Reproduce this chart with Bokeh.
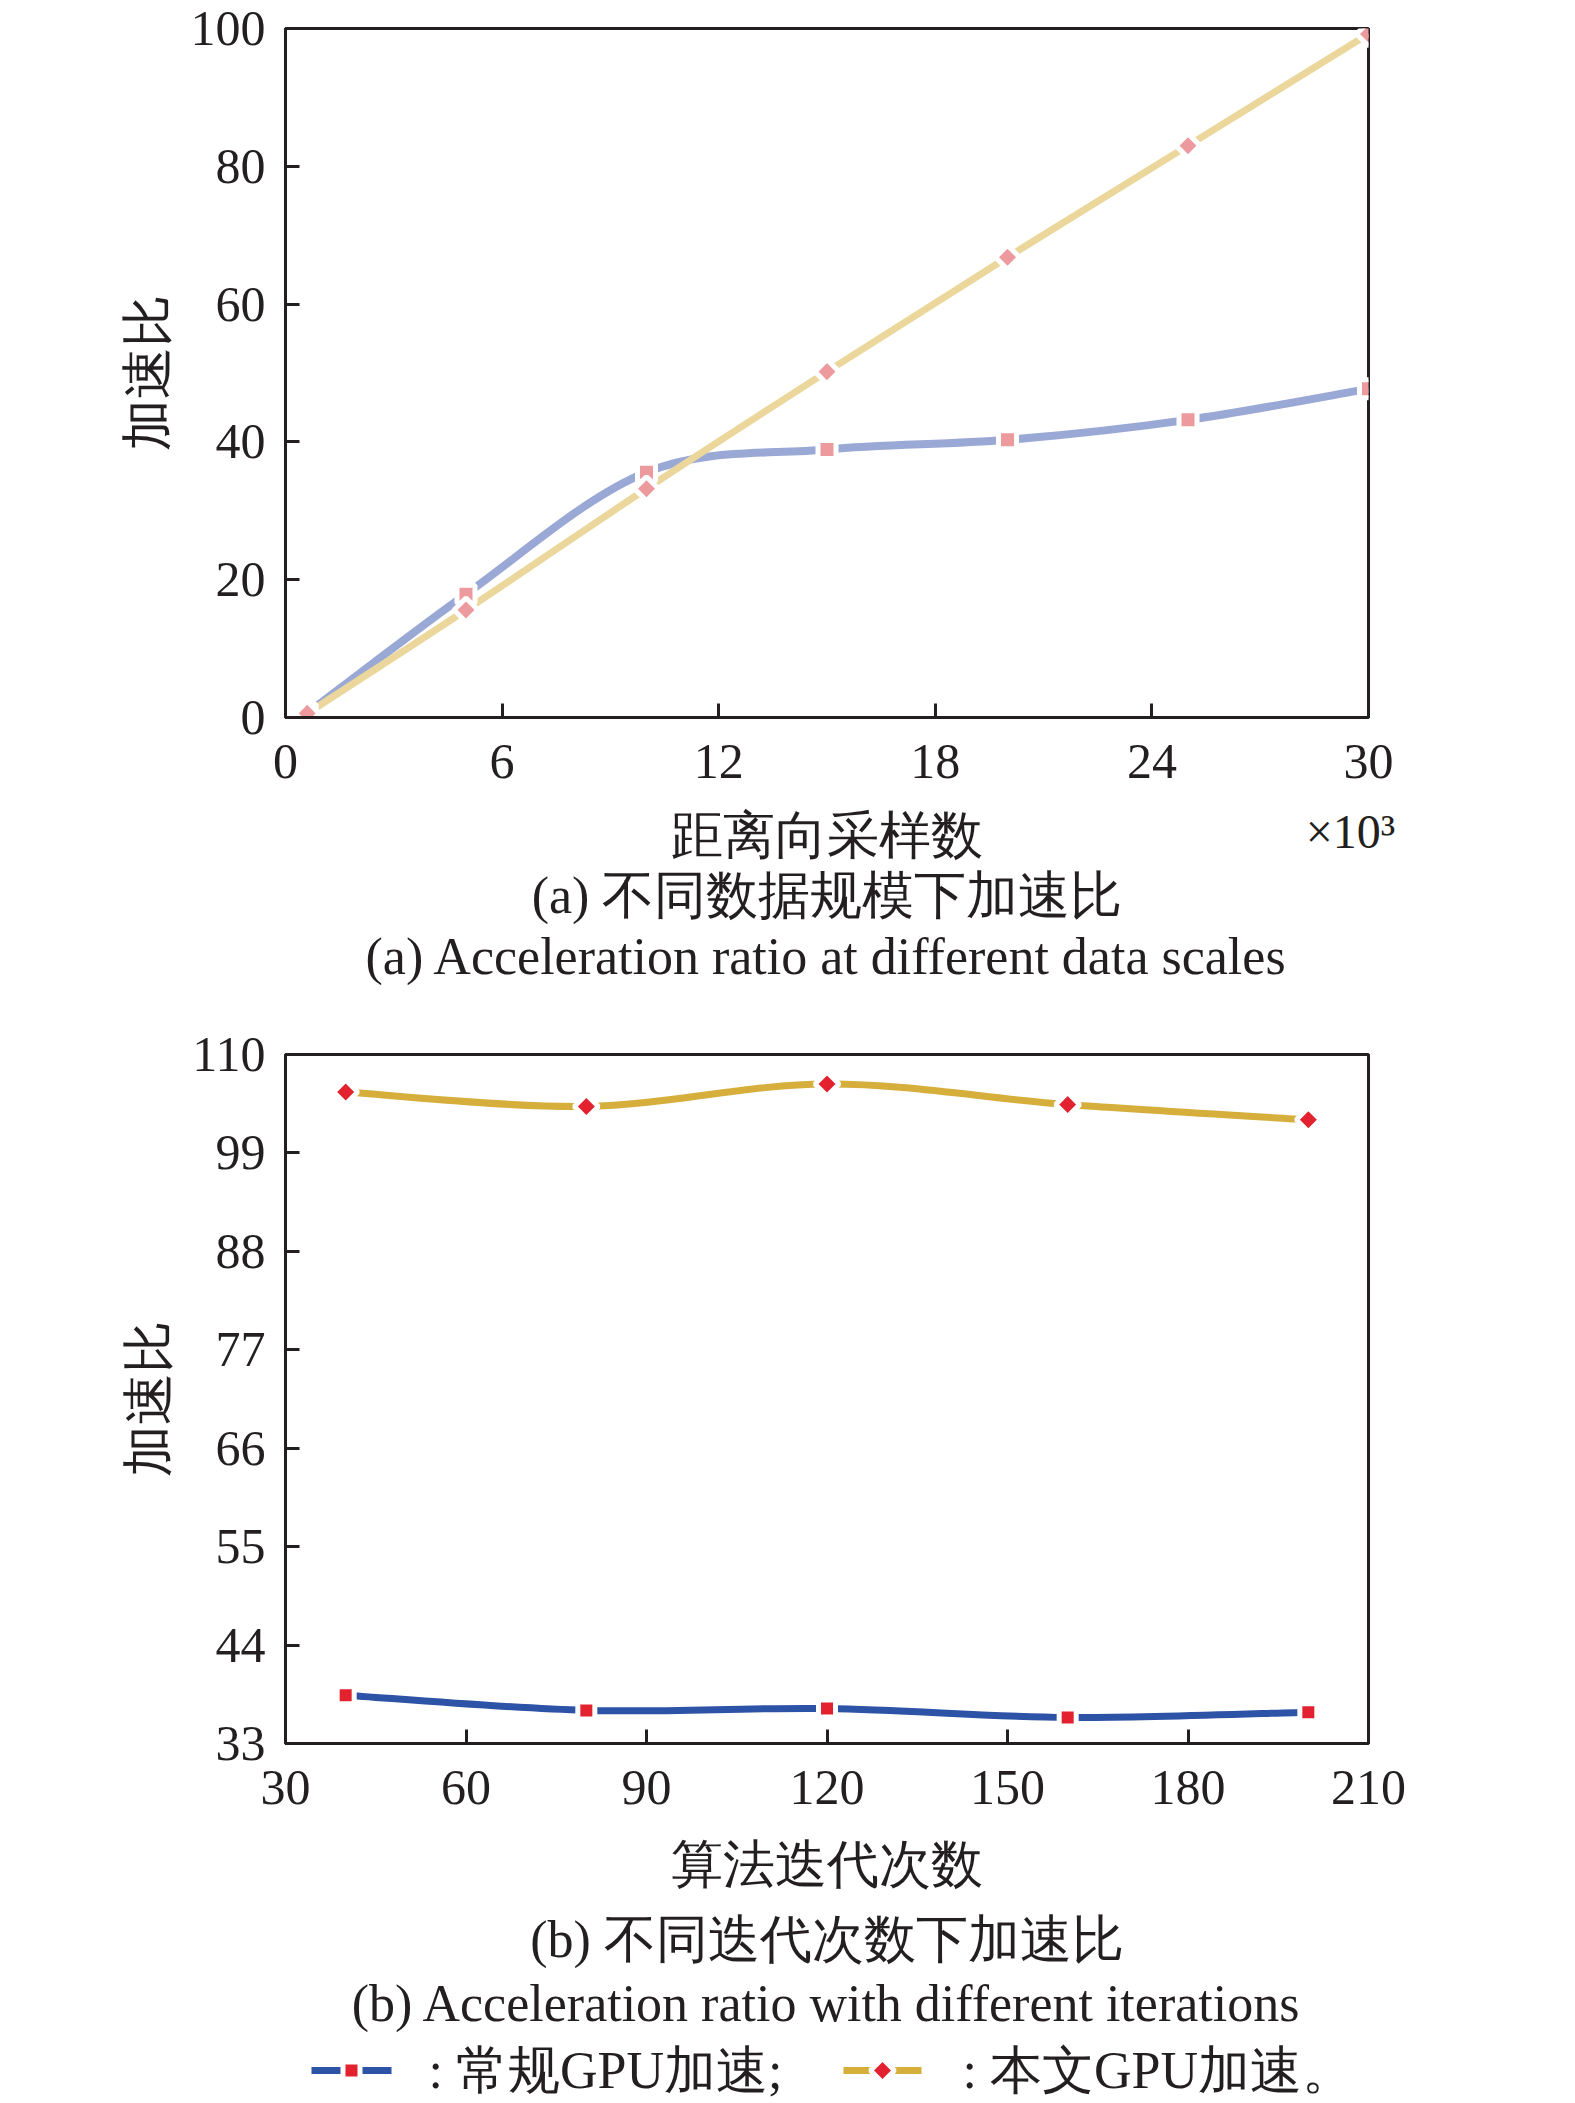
import math
from bokeh.plotting import figure
from bokeh.models import Range1d, FixedTicker, LinearAxis, Title
from bokeh.layouts import column
from bokeh.embed import file_html
from bokeh.resources import INLINE
from bokeh.core.properties import value

# ---------------- data ----------------
# panel (a): range samples (x10^3) vs speed-up ratio
a_x = [0.6, 5, 10, 15, 20, 25, 30]
a_conv = [0.6, 17.9, 35.6, 38.9, 40.3, 43.2, 47.7]      # 常规GPU加速
a_ours = [0.6, 15.6, 33.2, 50.2, 66.8, 83.0, 99.2]      # 本文GPU加速
a_xticks = [0, 6, 12, 18, 24, 30]
a_yticks = [0, 20, 40, 60, 80, 100]

# panel (b): iterations vs speed-up ratio
b_x = [40, 80, 120, 160, 200]
b_conv = [38.4, 36.7, 36.9, 35.9, 36.5]
b_ours = [105.8, 104.2, 106.7, 104.4, 102.7]
b_xticks = [30, 60, 90, 120, 150, 180, 210]
b_yticks = [33, 44, 55, 66, 77, 88, 99, 110]

leg_names = [": 常规GPU加速;", ": 本文GPU加速。"]

INK = "#231f20"
SERIF = "Liberation Serif"
BL, BR = 285, 140          # left / right borders shared by all figures
FW, FH = 1083, 689         # frame size
ROT = math.pi / 4          # square turned into a diamond


def smooth_segments(xs, ys):
    """Catmull-Rom -> cubic Bezier control points through the data points."""
    n = len(xs)
    out = dict(x0=[], y0=[], x1=[], y1=[], cx0=[], cy0=[], cx1=[], cy1=[])
    for i in range(n - 1):
        pxm, pym = (xs[i - 1], ys[i - 1]) if i > 0 else (xs[i], ys[i])
        pxp, pyp = (xs[i + 2], ys[i + 2]) if i + 2 < n else (xs[i + 1], ys[i + 1])
        out["x0"].append(xs[i]); out["y0"].append(ys[i])
        out["x1"].append(xs[i + 1]); out["y1"].append(ys[i + 1])
        out["cx0"].append(xs[i] + (xs[i + 1] - pxm) / 6.0)
        out["cy0"].append(ys[i] + (ys[i + 1] - pym) / 6.0)
        out["cx1"].append(xs[i + 1] - (pxp - xs[i]) / 6.0)
        out["cy1"].append(ys[i + 1] - (pyp - ys[i]) / 6.0)
    return out


def style_axis(ax):
    ax.axis_line_color = INK
    ax.axis_line_width = 3
    ax.major_tick_line_color = INK
    ax.major_tick_line_width = 3
    ax.major_tick_in = 14
    ax.major_tick_out = 0
    ax.minor_tick_in = 0
    ax.minor_tick_out = 0
    ax.major_label_text_font = SERIF
    ax.major_label_text_font_size = "50px"
    ax.major_label_text_color = INK
    ax.axis_label_text_font = SERIF
    ax.axis_label_text_font_size = "52px"
    ax.axis_label_text_font_style = "normal"
    ax.axis_label_text_color = INK


def make_panel(xr, yr, xticks, yticks, border_top, border_bottom):
    p = figure(frame_width=FW, frame_height=FH,
               min_border_left=BL, min_border_right=BR,
               min_border_top=border_top, min_border_bottom=border_bottom,
               x_range=Range1d(*xr), y_range=Range1d(*yr),
               output_backend="svg", toolbar_location=None)
    p.grid.visible = False
    p.background_fill_color = "white"
    p.border_fill_color = "white"
    p.outline_line_color = INK
    p.outline_line_width = 3
    p.xaxis.ticker = FixedTicker(ticks=xticks, minor_ticks=[])
    p.yaxis.ticker = FixedTicker(ticks=yticks, minor_ticks=[])
    style_axis(p.xaxis[0])
    style_axis(p.yaxis[0])
    p.xaxis.major_label_standoff = 27
    p.yaxis.major_label_standoff = 20
    p.yaxis.axis_label = "加速比"
    p.yaxis.axis_label_standoff = 12
    return p


def draw_series(p, xs, ys, line_color, lw):
    s = smooth_segments(xs, ys)
    p.bezier(x0=s["x0"], y0=s["y0"], x1=s["x1"], y1=s["y1"],
             cx0=s["cx0"], cy0=s["cy0"], cx1=s["cx1"], cy1=s["cy1"],
             line_color=line_color, line_width=lw)


def caption(p, text, size, standoff):
    p.add_layout(Title(text=text, align="center", text_font=SERIF,
                       text_font_size=size, text_font_style="normal",
                       text_color=INK, standoff=standoff), "below")


# ---------------- panel (a) ----------------
A_BLUE, A_YEL, A_MARK = "#9aa8d6", "#ebd79c", "#ec9a9d"
pa = make_panel((0, 30), (0, 100), a_xticks, a_yticks, 28, 291)
draw_series(pa, a_x, a_conv, A_BLUE, 8)
draw_series(pa, a_x, a_ours, A_YEL, 7)
pa.scatter(a_x, a_conv, marker="square", size=18, fill_color=A_MARK,
           line_color="white", line_width=5)
pa.scatter(a_x, a_ours, marker="square", angle=ROT, size=17, fill_color=A_MARK,
           line_color="white", line_width=5)

# second, line-less axis row: "×10³" multiplier + the axis title on one row
ax2 = LinearAxis(ticker=FixedTicker(ticks=[29.5], minor_ticks=[]),
                 major_label_overrides={29.5: "×10³"})
style_axis(ax2)
ax2.axis_line_color = None
ax2.major_tick_line_color = None
ax2.major_tick_in = 0
ax2.major_label_text_font_size = "48px"
ax2.major_label_standoff = 24
ax2.axis_label = "距离向采样数"
ax2.axis_label_standoff = -54
pa.add_layout(ax2, "below")
caption(pa, "(a) 不同数据规模下加速比", "52px", -4)
caption(pa, "(a) Acceleration ratio at different data scales", "52px", 8)

# ---------------- panel (b) ----------------
B_BLUE, B_YEL, B_MARK = "#2d53a6", "#d6ae3c", "#e2222f"
pb = make_panel((30, 210), (33, 110), b_xticks, b_yticks, 46, 297)
pb.xaxis.axis_label = "算法迭代次数"
pb.xaxis.axis_label_standoff = 29
draw_series(pb, b_x, b_conv, B_BLUE, 7)
draw_series(pb, b_x, b_ours, B_YEL, 7)
pb.scatter(b_x, b_conv, marker="square", size=17, fill_color=B_MARK,
           line_color="white", line_width=5)
pb.scatter(b_x, b_ours, marker="square", angle=ROT, size=17, fill_color=B_MARK,
           line_color="white", line_width=5)
caption(pb, "(b) 不同迭代次数下加速比", "52px", 27)
caption(pb, "(b) Acceleration ratio with different iterations", "52px", -17)

# ---------------- legend strip (page-pixel coordinates) ----------------
leg_x0 = [311, 843]
leg_x1 = [391, 921]
leg_mx = [351, 882]
leg_tx = [428, 962]
leg_y = [30, 30]

pc = figure(frame_width=FW, frame_height=60,
            min_border_left=BL, min_border_right=BR,
            min_border_top=0, min_border_bottom=0,
            x_range=Range1d(BL, BL + FW), y_range=Range1d(0, 60),
            x_axis_location=None, y_axis_location=None,
            output_backend="svg", toolbar_location=None)
pc.grid.visible = False
pc.outline_line_color = None
pc.background_fill_color = "white"
pc.border_fill_color = "white"
pc.segment(x0=leg_x0, y0=leg_y, x1=leg_x1, y1=leg_y,
           line_color=[B_BLUE, B_YEL], line_width=7)
pc.scatter(x=[leg_mx[0]], y=[leg_y[0]], marker="square", size=17,
           fill_color=B_MARK, line_color="white", line_width=5)
pc.scatter(x=[leg_mx[1]], y=[leg_y[1]], marker="square", angle=ROT, size=17,
           fill_color=B_MARK, line_color="white", line_width=5)
pc.text(x=leg_tx, y=leg_y, text=leg_names, text_align="left",
        text_baseline="middle", text_font=value(SERIF),
        text_font_size="52px", text_color=INK)

layout = column(pa, pb, pc, spacing=0)
with open("out.html", "w") as f:
    f.write(file_html(layout, INLINE))
